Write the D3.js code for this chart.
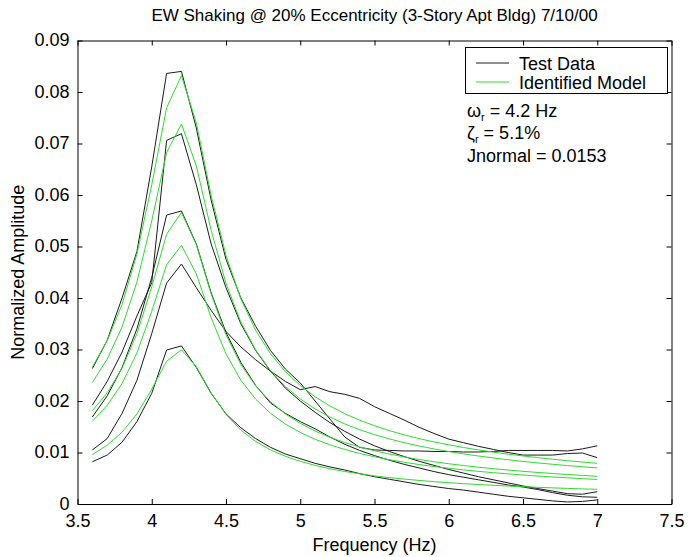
<!DOCTYPE html>
<html><head><meta charset="utf-8">
<script src="https://cdn.jsdelivr.net/npm/d3@7"></script>
<style>
html,body{margin:0;padding:0;background:#fff;}
svg text{font-family:"Liberation Sans",Arial,sans-serif;fill:#000;}
</style></head>
<body>
<svg id="chart" width="688" height="557"></svg>
<script>
// ---------- data ----------
const freqs = [3.6,3.7,3.8,3.9,4.0,4.1,4.2,4.3,4.4,4.5,4.6,4.7,4.8,4.9,5.0,5.1,5.2,5.3,5.4,5.5,5.6,5.7,5.8,5.9,6.0,6.1,6.2,6.3,6.4,6.5,6.6,6.7,6.8,6.9,7.0];

const test1 = [0.0263,0.0318,0.0400,0.0490,0.0655,0.0836,0.0840,0.0730,0.0590,0.0475,0.0400,0.0345,0.0298,0.0262,0.0235,0.0200,0.0165,0.0130,0.0110,0.0105,0.0104,0.0103,0.0103,0.0102,0.0102,0.0101,0.0101,0.0102,0.0104,0.0104,0.0104,0.0104,0.0103,0.0107,0.0113];
const test2 = [0.0192,0.0238,0.0295,0.0365,0.0430,0.0706,0.0719,0.0620,0.0505,0.0420,0.0350,0.0298,0.0258,0.0225,0.0200,0.0178,0.0158,0.0141,0.0126,0.0113,0.0102,0.0092,0.0083,0.0075,0.0067,0.0060,0.0053,0.0047,0.0041,0.0035,0.0030,0.0025,0.0020,0.0019,0.0024];
const test3 = [0.0169,0.0210,0.0265,0.0340,0.0440,0.0561,0.0569,0.0505,0.0410,0.0333,0.0275,0.0230,0.0196,0.0176,0.0160,0.0146,0.0130,0.0116,0.0104,0.0094,0.0085,0.0077,0.0070,0.0063,0.0057,0.0052,0.0047,0.0042,0.0037,0.0033,0.0028,0.0022,0.0017,0.0014,0.0013];
const test4 = [0.0105,0.0127,0.0176,0.0240,0.0331,0.0429,0.0466,0.0420,0.0376,0.0335,0.0305,0.0280,0.0258,0.0238,0.0222,0.0228,0.0218,0.0213,0.0205,0.0189,0.0176,0.0163,0.0149,0.0137,0.0126,0.0119,0.0112,0.0106,0.0100,0.0095,0.0095,0.0095,0.0098,0.0099,0.0090];
const test5 = [0.0082,0.0095,0.0120,0.0160,0.0215,0.0299,0.0307,0.0265,0.0215,0.0175,0.0148,0.0127,0.0110,0.0097,0.0088,0.0079,0.0072,0.0066,0.0059,0.0053,0.0048,0.0043,0.0038,0.0034,0.0030,0.0027,0.0023,0.0019,0.0015,0.0012,0.0009,0.0006,0.0004,0.0005,0.0008];

const model1 = [0.02659,0.03172,0.03874,0.04855,0.06197,0.07693,0.08317,0.07403,0.05991,0.04827,0.03982,0.03370,0.02917,0.02570,0.02301,0.02082,0.01903,0.01753,0.01627,0.01519,0.01425,0.01343,0.01270,0.01206,0.01149,0.01097,0.01050,0.01007,0.00968,0.00933,0.00900,0.00869,0.00841,0.00815,0.00790];
const model2 = [0.02359,0.02814,0.03437,0.04308,0.05498,0.06825,0.07379,0.06567,0.05315,0.04283,0.03532,0.02990,0.02587,0.02280,0.02041,0.01847,0.01688,0.01555,0.01443,0.01347,0.01264,0.01191,0.01127,0.01070,0.01019,0.00973,0.00932,0.00894,0.00859,0.00827,0.00798,0.00771,0.00746,0.00723,0.00701];
const model3 = [0.01810,0.02159,0.02637,0.03305,0.04218,0.05237,0.05661,0.05039,0.04078,0.03286,0.02710,0.02294,0.01985,0.01749,0.01566,0.01417,0.01295,0.01193,0.01107,0.01034,0.00970,0.00914,0.00865,0.00821,0.00782,0.00747,0.00715,0.00686,0.00659,0.00635,0.00612,0.00592,0.00572,0.00555,0.00538];
const model4 = [0.01606,0.01916,0.02339,0.02932,0.03742,0.04645,0.05022,0.04470,0.03618,0.02915,0.02404,0.02035,0.01761,0.01552,0.01389,0.01257,0.01149,0.01059,0.00982,0.00917,0.00860,0.00811,0.00767,0.00728,0.00694,0.00662,0.00634,0.00608,0.00585,0.00563,0.00543,0.00525,0.00508,0.00492,0.00477];
const model5 = [0.00958,0.01142,0.01395,0.01749,0.02232,0.02771,0.02995,0.02666,0.02158,0.01739,0.01434,0.01214,0.01050,0.00926,0.00829,0.00750,0.00685,0.00631,0.00586,0.00547,0.00513,0.00484,0.00458,0.00434,0.00414,0.00395,0.00378,0.00363,0.00349,0.00336,0.00324,0.00313,0.00303,0.00293,0.00285];

const xTicks = [3.5,4,4.5,5,5.5,6,6.5,7,7.5];
const xTickLabels = ["3.5","4","4.5","5","5.5","6","6.5","7","7.5"];
const yTicks = [0,0.01,0.02,0.03,0.04,0.05,0.06,0.07,0.08,0.09];
const yTickLabels = ["0","0.01","0.02","0.03","0.04","0.05","0.06","0.07","0.08","0.09"];

const titleText = "EW Shaking @ 20% Eccentricity (3-Story Apt Bldg) 7/10/00";
const xLabel = "Frequency (Hz)";
const yLabel = "Normalized Amplitude";
const legendLabels = ["Test Data","Identified Model"];

// ---------- drawing ----------
const svg = d3.select("#chart");
const L = 77.5, R = 671.5, T = 40.5, B = 504;
const x = d3.scaleLinear().domain([3.5,7.5]).range([L,R]);
const y = d3.scaleLinear().domain([0,0.09]).range([B,T]);

const BLACK = "#1a1a1a", GREEN = "#2edb2e";
const line = d3.line().x((d,i)=>x(freqs[i])).y(d=>y(d));

const tests = [test1,test2,test3,test4,test5];
const models = [model1,model2,model3,model4,model5];

const plot = svg.append("g");
tests.forEach(s => plot.append("path").attr("d", line(s)).attr("fill","none").attr("stroke",BLACK).attr("stroke-width",1));
models.forEach(s => plot.append("path").attr("d", line(s)).attr("fill","none").attr("stroke",GREEN).attr("stroke-width",1));

// axes
const fs = "18px";
const gx = svg.append("g").attr("transform",`translate(0,${B})`)
  .call(d3.axisBottom(x).tickValues(xTicks).tickFormat((d,i)=>xTickLabels[i]).tickSize(-5).tickSizeOuter(0).tickPadding(10));
const gy = svg.append("g").attr("transform",`translate(${L},0)`)
  .call(d3.axisLeft(y).tickValues(yTicks).tickFormat((d,i)=>yTickLabels[i]).tickSize(-5).tickSizeOuter(0).tickPadding(8));
const gt = svg.append("g").attr("transform",`translate(0,${T})`)
  .call(d3.axisTop(x).tickValues(xTicks).tickFormat("").tickSize(-5).tickSizeOuter(0));
const gr = svg.append("g").attr("transform",`translate(${R},0)`)
  .call(d3.axisRight(y).tickValues(yTicks).tickFormat("").tickSize(-5).tickSizeOuter(0));
[gx,gy,gt,gr].forEach(g=>{
  g.selectAll("path,line").attr("stroke","#000").attr("stroke-width",1);
  g.selectAll("text").style("font-family",'"Liberation Sans",Arial,sans-serif').style("font-size",fs).attr("fill","#000");
});
gy.selectAll(".tick text").attr("dy","0.3em");

// titles
svg.append("text").attr("x",(L+R)/2).attr("y",21).attr("text-anchor","middle").style("font-size","17px").text(titleText);
svg.append("text").attr("x",(L+R)/2).attr("y",551).attr("text-anchor","middle").style("font-size","18px").text(xLabel);
svg.append("text").attr("transform",`translate(24,${(T+B)/2}) rotate(-90)`).attr("text-anchor","middle").style("font-size","18px").text(yLabel);

// legend
const lg = svg.append("g");
lg.append("rect").attr("x",465.5).attr("y",47.5).attr("width",202).attr("height",46).attr("fill","#fff").attr("stroke","#000");
[BLACK,GREEN].forEach((c,i)=>{
  const yy = 63 + i*19;
  lg.append("line").attr("x1",476).attr("x2",509).attr("y1",yy).attr("y2",yy).attr("stroke",c).attr("stroke-width",1);
  lg.append("text").attr("x",519).attr("y",yy+6.5).style("font-size","18px").text(legendLabels[i]);
});

// annotations
const ann = svg.append("g").style("font-size","18px");
const t1 = ann.append("text").attr("x",467).attr("y",117);
t1.append("tspan").text("ω");
t1.append("tspan").attr("dy",4).style("font-size","11px").text("r");
t1.append("tspan").attr("dy",-4).text(" = 4.2 Hz");
const t2 = ann.append("text").attr("x",467).attr("y",139);
t2.append("tspan").text("ζ");
t2.append("tspan").attr("dy",4).style("font-size","11px").text("r");
t2.append("tspan").attr("dy",-4).text(" = 5.1%");
ann.append("text").attr("x",467).attr("y",162).text("Jnormal = 0.0153");
</script>
</body></html>
